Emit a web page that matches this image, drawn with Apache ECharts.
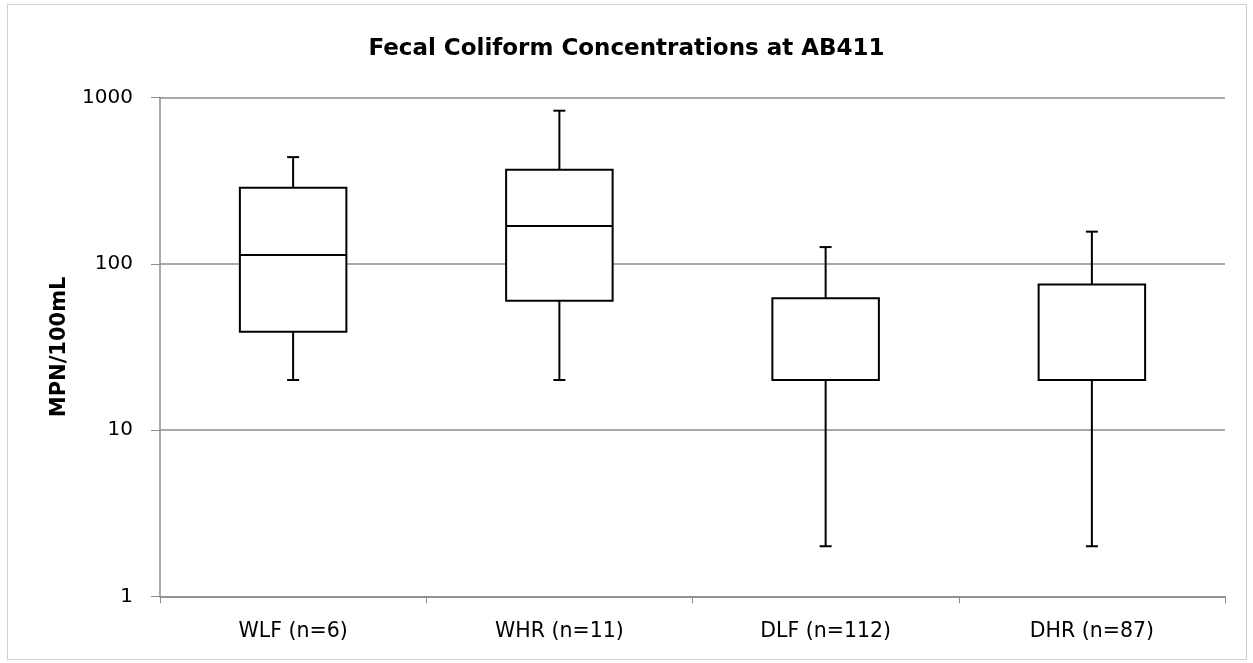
<!DOCTYPE html>
<html>
<head>
<meta charset="utf-8">
<script src="https://cdn.jsdelivr.net/npm/echarts@6/dist/echarts.min.js"></script>
<style>html,body{margin:0;padding:0;background:#fff}#c{width:1253px;height:663px}</style>
</head>
<body>
<div id="c"></div>
<script>
const categories = ['WLF (n=6)', 'WHR (n=11)', 'DLF (n=112)', 'DHR (n=87)'];
const minValues    = [20, 20, 2, 2];
const q1Values     = [39, 60, 20, 20];
const medianValues = [113, 169, 20, 20];
const q3Values     = [287, 368, 62, 75];
const maxValues    = [438, 833, 126, 156];
const yTicks = [1, 10, 100, 1000];

const data = categories.map((c, i) => [i, minValues[i], q1Values[i], medianValues[i], q3Values[i], maxValues[i]]);

const chart = echarts.init(document.getElementById('c'), null, {renderer: 'canvas'});
const font = 'DejaVu Sans';

chart.setOption({
  backgroundColor: '#fff',
  animation: false,
  title: {
    text: 'Fecal Coliform Concentrations at AB411',
    left: 'center', top: 33,
    textStyle: {fontFamily: font, fontWeight: 'bold', fontSize: 23, color: '#000'}
  },
  graphic: [{
    type: 'rect', shape: {x: 7.5, y: 4.5, width: 1239, height: 655},
    style: {fill: null, stroke: '#d0d0d0', lineWidth: 1}, silent: true
  }],
  grid: {left: 160, right: 28, top: 97.5, bottom: 66.7},
  xAxis: {
    type: 'category', data: categories, boundaryGap: true,
    axisLine: {lineStyle: {color: '#8c8c8c', width: 1.5}},
    axisTick: {show: true, length: 7, lineStyle: {color: '#8c8c8c'}},
    axisLabel: {fontFamily: font, fontSize: 20.5, color: '#000', margin: 25}
  },
  yAxis: {
    type: 'log', logBase: 10, min: yTicks[0], max: yTicks[yTicks.length - 1],
    name: 'MPN/100mL', nameLocation: 'middle', nameGap: 90,
    nameTextStyle: {fontFamily: font, fontWeight: 'bold', fontSize: 21, color: '#000'},
    axisLine: {show: true, lineStyle: {color: '#8c8c8c', width: 1.5}},
    axisTick: {show: true, inside: false, length: 9, lineStyle: {color: '#8c8c8c'}},
    splitLine: {show: true, lineStyle: {color: '#8c8c8c', width: 1.5}},
    minorTick: {show: false},
    axisLabel: {fontFamily: font, fontSize: 20, color: '#000', margin: 27, formatter: v => String(v)}
  },
  series: [{
    type: 'custom',
    data: data,
    encode: {x: 0, y: [1, 2, 3, 4, 5]},
    renderItem: function (params, api) {
      const idx = api.value(0);
      const band = api.size([1, 0])[0];
      const half = band * 0.4 / 2;
      const cap = 6;
      const pMin = api.coord([idx, api.value(1)]);
      const pQ1 = api.coord([idx, api.value(2)]);
      const pMed = api.coord([idx, api.value(3)]);
      const pQ3 = api.coord([idx, api.value(4)]);
      const pMax = api.coord([idx, api.value(5)]);
      const x = pQ1[0];
      const st = {stroke: '#000', lineWidth: 2, fill: null};
      return {
        type: 'group',
        children: [
          {type: 'line', shape: {x1: x, y1: pMax[1], x2: x, y2: pQ3[1]}, style: st},
          {type: 'line', shape: {x1: x - cap, y1: pMax[1], x2: x + cap, y2: pMax[1]}, style: st},
          {type: 'line', shape: {x1: x, y1: pQ1[1], x2: x, y2: pMin[1]}, style: st},
          {type: 'line', shape: {x1: x - cap, y1: pMin[1], x2: x + cap, y2: pMin[1]}, style: st},
          {type: 'rect', shape: {x: x - half, y: pQ3[1], width: half * 2, height: pQ1[1] - pQ3[1]}, style: {stroke: '#000', lineWidth: 2, fill: '#fff'}},
          {type: 'line', shape: {x1: x - half, y1: pMed[1], x2: x + half, y2: pMed[1]}, style: st}
        ]
      };
    }
  }]
});
</script>
</body>
</html>
